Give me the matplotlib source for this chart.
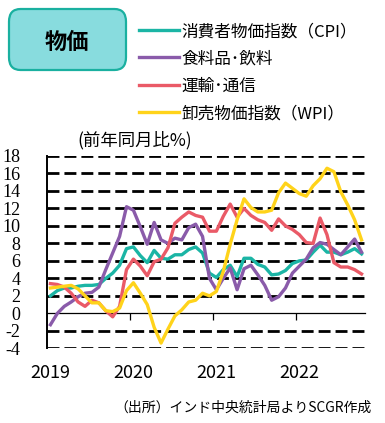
import numpy as np
import matplotlib.pyplot as plt
from matplotlib.patches import FancyBboxPatch

plt.rcParams['font.family'] = ['Noto Sans CJK JP', 'DejaVu Sans']

# monthly data, Jan 2019 - Oct 2022 (y/y %)
cpi = [2.0, 2.6, 2.9, 2.9, 3.1, 3.2, 3.2, 3.3, 4.0, 4.6, 5.5, 7.4,
       7.6, 6.6, 5.8, 7.2, 6.3, 6.2, 6.7, 6.7, 7.3, 7.6, 6.9, 4.6,
       4.1, 5.0, 5.5, 4.2, 6.3, 6.3, 5.6, 5.3, 4.4, 4.5, 4.9, 5.7,
       6.0, 6.1, 7.0, 7.8, 7.0, 7.0, 6.7, 7.0, 7.4, 6.8]
food = [-1.3, 0.0, 0.8, 1.3, 1.9, 2.3, 2.4, 3.0, 5.0, 6.9, 8.8, 12.2,
        11.8, 9.9, 7.9, 10.4, 8.4, 8.0, 8.6, 8.4, 9.8, 10.2, 8.8, 4.0,
        2.7, 4.0, 5.2, 2.7, 5.1, 5.5, 4.4, 3.2, 1.5, 1.9, 2.9, 4.6,
        5.4, 6.2, 7.5, 8.1, 7.9, 7.3, 6.7, 7.6, 8.5, 7.0]
transport = [3.4, 3.3, 3.0, 2.3, 1.3, 0.8, 1.5, 1.2, 0.3, -0.4, 0.8, 5.0,
             6.2, 5.4, 4.3, 5.9, 6.2, 7.5, 10.3, 11.0, 11.6, 11.2, 11.0, 9.4,
             9.4, 11.1, 12.5, 11.0, 12.0, 11.2, 10.7, 10.4, 9.5, 10.8, 10.0, 9.6,
             9.0, 8.1, 8.0, 10.9, 9.0, 5.8, 5.3, 5.3, 5.0, 4.5]
wpi = [2.9, 3.0, 3.1, 3.2, 2.8, 2.0, 1.2, 1.2, 0.3, 0.2, 0.6, 2.6,
       3.5, 2.3, 1.0, -1.6, -3.4, -1.8, -0.3, 0.4, 1.3, 1.5, 2.3, 2.0,
       2.5, 4.8, 7.9, 10.7, 13.1, 12.1, 11.6, 11.6, 11.8, 13.8, 14.9, 14.3,
       13.7, 13.4, 14.6, 15.4, 16.6, 16.2, 13.9, 12.4, 10.7, 8.4]
names = ['消費者物価指数（CPI）', '食料品･飲料', '運輸･通信', '卸売物価指数（WPI）']
colors = ['#1BB5A5', '#8A5BAA', '#EA5A67', '#FFD31A']
years = ['2019', '2020', '2021', '2022']
grid_vals = [-4, -2, 2, 4, 6, 8, 10, 12, 14, 16, 18]

fig = plt.figure(figsize=(3.85, 4.23), dpi=100)
ax = fig.add_axes([47 / 385, 1 - 348.3 / 423, 318 / 385, 192.3 / 423])

x = np.arange(len(cpi))
for g in grid_vals:
    ax.axhline(g, color='black', lw=2, ls=(0, (4.3, 1.8)), zorder=1)

for s, nm, c in zip([cpi, food, transport, wpi], names, colors):
    ax.plot(x, s, color=c, lw=2.4, label=nm, zorder=3, solid_joinstyle='round')

ax.set_xlim(-0.5, len(cpi) - 0.5)
ax.set_ylim(-4, 18)
ax.spines['top'].set_visible(False)
ax.spines['right'].set_visible(False)
ax.spines['bottom'].set_position(('data', 0))
ax.spines['bottom'].set_linewidth(0.9)
ax.spines['left'].set_linewidth(1.4)
ax.spines['bottom'].set_zorder(2)

ax.set_xticks([11.5, 23.5, 35.5])
ax.set_xticklabels([])
ax.tick_params(axis='x', direction='out', length=5, width=0.9)
ax.set_yticks(range(-4, 19, 2))
ax.set_yticklabels([str(v) for v in range(-4, 19, 2)], family='Liberation Serif', fontsize=13)
ax.tick_params(axis='y', length=0, pad=19)

for i, yr in enumerate(years):
    ax.text(i * 12, -0.13, yr, transform=ax.get_xaxis_transform(),
            ha='center', va='center', fontsize=13)

ax.legend(loc='upper left', bbox_to_anchor=(139 / 385, 1 - 23 / 423),
          bbox_transform=fig.transFigure, frameon=False, fontsize=12,
          handlelength=2.4, handletextpad=0.15, labelspacing=0.62,
          borderpad=0, borderaxespad=0)

fig.text(135 / 385, 1 - 140 / 423, '(前年同月比%)', ha='center', va='center', fontsize=12.5)

box = FancyBboxPatch((9 / 385, 1 - 70 / 423), 117 / 385, 61 / 423,
                     boxstyle='round,pad=0,rounding_size=0.03',
                     transform=fig.transFigure, facecolor='#88DCDE',
                     edgecolor='#1AB0A0', lw=1.6)
fig.patches.append(box)
fig.text(67 / 385, 1 - 42 / 423, '物価', ha='center', va='center',
         fontsize=16, fontweight='bold')

fig.text(372 / 385, 1 - 408 / 423, '（出所）インド中央統計局よりSCGR作成',
         ha='right', va='center', fontsize=10)

fig.savefig('out.png', dpi=100)
